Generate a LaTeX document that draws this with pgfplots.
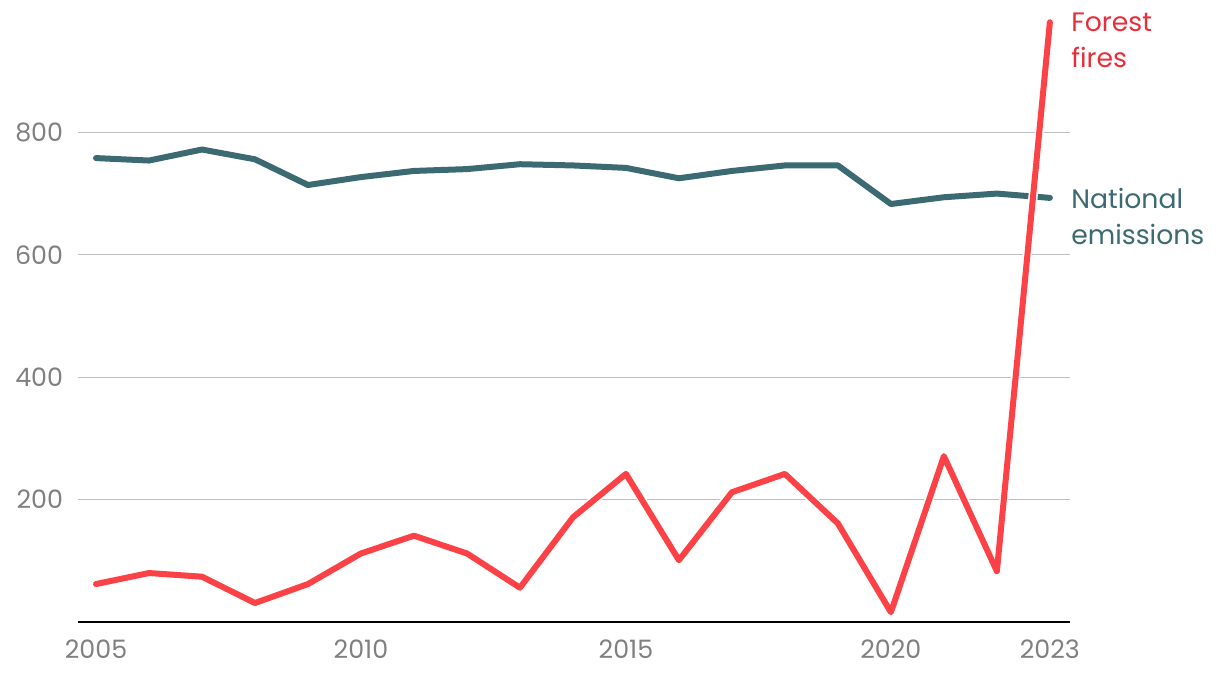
\documentclass[border=0pt]{standalone}
\usepackage{fontspec}
\setmainfont{Poppins}
\usepackage{pgfplots}
\pgfplotsset{compat=1.18}
\definecolor{fire}{RGB}{252,66,70}
\definecolor{firetxt}{RGB}{232,46,58}
\definecolor{teal}{RGB}{60,106,114}
\definecolor{tickgray}{RGB}{128,128,128}
\definecolor{gridgray}{RGB}{190,190,190}
\begin{document}
\begin{tikzpicture}
\begin{axis}[
  at={(58.5pt,43.5pt)}, anchor=south west,
  scale only axis, width=744pt, height=459pt,
  xmin=2004.66, xmax=2023.38, ymin=0, ymax=1000,
  axis x line*=bottom, axis y line*=left,
  y axis line style={draw=none},
  x axis line style={black, line width=1.5pt},
  xtick={2005,2010,2015,2020,2023},
  ytick={200,400,600,800},
  major tick length=0pt,
  ymajorgrids, grid style={gridgray, line width=1pt},
  /pgf/number format/assume math mode=true,
  /pgf/number format/1000 sep={},
  ticklabel style={font=\fontsize{19}{22}\selectfont, text=tickgray, inner sep=0pt},
  yticklabel style={anchor=east, xshift=-11pt},
  xticklabel style={anchor=north, yshift=-13.5pt},
  clip=false,
]
\addplot[teal, line width=4.5pt, line cap=round, line join=round] coordinates {
(2005,758) (2006,754) (2007,772) (2008,756) (2009,714) (2010,727) (2011,737)
(2012,740) (2013,748) (2014,746) (2015,742) (2016,725) (2017,737) (2018,746)
(2019,746) (2020,683) (2021,694) (2022,700) (2023,693)};
\addplot[white, line width=7pt, line cap=round, line join=round] coordinates {
(2005,62) (2006,80) (2007,74) (2008,31) (2009,62) (2010,112) (2011,141)
(2012,112) (2013,56) (2014,171) (2015,242) (2016,101) (2017,212) (2018,242)
(2019,161) (2020,16) (2021,271) (2022,83) (2023,980)};
\addplot[fire, line width=4.5pt, line cap=round, line join=round] coordinates {
(2005,62) (2006,80) (2007,74) (2008,31) (2009,62) (2010,112) (2011,141)
(2012,112) (2013,56) (2014,171) (2015,242) (2016,101) (2017,212) (2018,242)
(2019,161) (2020,16) (2021,271) (2022,83) (2023,980)};
\node[anchor=north west, align=left, inner sep=0pt, text=firetxt,
  font=\fontsize{20}{27}\selectfont] at (axis cs:2023.4,995) {Forest\\fires};
\node[anchor=west, align=left, inner sep=0pt, text=teal,
  font=\fontsize{20}{27}\selectfont] at (axis cs:2023.4,663) {National\\emissions};
\end{axis}
\pgfresetboundingbox
\path[use as bounding box] (0,0) rectangle (915pt,510pt);
\end{tikzpicture}
\end{document}
